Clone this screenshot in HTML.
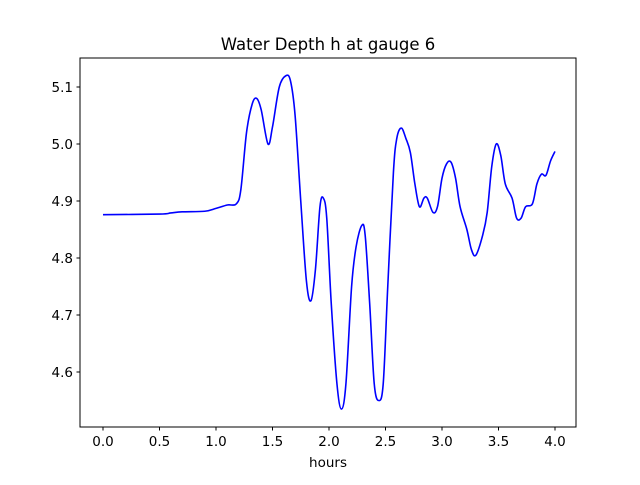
<!DOCTYPE html>
<html><head><meta charset="utf-8"><style>
body{margin:0;background:#fff;}
svg text{font-family:"DejaVu Sans","Liberation Sans",sans-serif;fill:#000;}
</style></head><body>
<svg id="chart" width="640" height="480" xmlns="http://www.w3.org/2000/svg">
<rect width="640" height="480" fill="#fff"/>
<text x="328" y="50" font-size="16.5" text-anchor="middle">Water Depth h at gauge 6</text>
<g id="ticks"></g>
<path id="line" fill="none" stroke="#0000ff" stroke-width="1.6"/>
<rect x="80" y="58" width="496" height="369" fill="none" stroke="#000" stroke-width="1"/>
<text x="328" y="467" font-size="13.5" text-anchor="middle">hours</text>
</svg>
<script>
const times=[0.0,0.5,0.6,0.7,0.9,1.0,1.1,1.18,1.22,1.27,1.32,1.36,1.40,1.46,1.50,1.56,1.62,1.66,1.70,1.75,1.80,1.84,1.88,1.92,1.95,1.98,2.02,2.07,2.11,2.15,2.20,2.24,2.29,2.32,2.36,2.40,2.44,2.48,2.52,2.57,2.60,2.64,2.68,2.72,2.76,2.80,2.84,2.87,2.92,2.96,3.00,3.04,3.08,3.12,3.16,3.22,3.26,3.30,3.36,3.40,3.44,3.48,3.52,3.56,3.62,3.66,3.70,3.74,3.80,3.84,3.88,3.92,3.96,4.0];
const depths=[4.876,4.877,4.879,4.881,4.882,4.887,4.893,4.895,4.92,5.02,5.07,5.08,5.06,5.00,5.03,5.10,5.12,5.11,5.05,4.90,4.76,4.725,4.78,4.89,4.905,4.87,4.72,4.58,4.535,4.58,4.75,4.82,4.857,4.84,4.72,4.58,4.55,4.58,4.75,4.95,5.01,5.028,5.01,4.985,4.93,4.89,4.905,4.905,4.88,4.89,4.94,4.965,4.968,4.94,4.89,4.85,4.815,4.805,4.84,4.88,4.96,5.00,4.98,4.93,4.905,4.87,4.87,4.89,4.895,4.93,4.947,4.945,4.97,4.987];
const xTicks=[0.0,0.5,1.0,1.5,2.0,2.5,3.0,3.5,4.0];
const xTickLabels=["0.0","0.5","1.0","1.5","2.0","2.5","3.0","3.5","4.0"];
const yTicks=[4.6,4.7,4.8,4.9,5.0,5.1];
const yTickLabels=["4.6","4.7","4.8","4.9","5.0","5.1"];
const xs=v=>103+v*113;
const ys=v=>87+(5.1-v)*570;
const NS="http://www.w3.org/2000/svg";
const g=document.getElementById('ticks');
function mk(t,a){const e=document.createElementNS(NS,t);for(const k in a)e.setAttribute(k,a[k]);g.appendChild(e);return e;}
xTicks.forEach((v,i)=>{
 const l=mk('line',{x1:xs(v),x2:xs(v),y1:427,y2:430.5,stroke:'#000'});
 
 
 const t=mk('text',{x:xs(v),y:446,'font-size':13.5,'text-anchor':'middle'});
 t.textContent=xTickLabels[i];
 
 
});
yTicks.forEach((v,i)=>{
 const l=mk('line',{x1:76.5,x2:80,y1:ys(v),y2:ys(v),stroke:'#000'});
 
 
 const t=mk('text',{x:73,y:ys(v)+5,'font-size':13.5,'text-anchor':'end'});
 t.textContent=yTickLabels[i];
 
 
});
const P=times.map((t,i)=>[xs(t),ys(depths[i])]);
let d='M'+P[0][0]+','+P[0][1];
for(let i=0;i<P.length-1;i++){
 const p0=P[Math.max(i-1,0)],p1=P[i],p2=P[i+1],p3=P[Math.min(i+2,P.length-1)];
 const c1=[p1[0]+(p2[0]-p0[0])/6,p1[1]+(p2[1]-p0[1])/6];
 const c2=[p2[0]-(p3[0]-p1[0])/6,p2[1]-(p3[1]-p1[1])/6];
 d+=` C${c1[0]},${c1[1]} ${c2[0]},${c2[1]} ${p2[0]},${p2[1]}`;
}
document.getElementById('line').setAttribute('d',d);
</script>
</body></html>
